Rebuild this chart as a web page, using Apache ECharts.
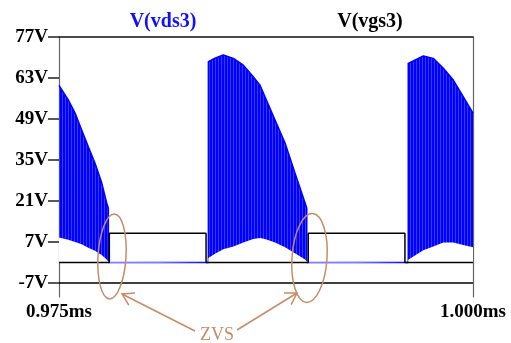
<!DOCTYPE html>
<html>
<head>
<meta charset="utf-8">
<script src="https://cdn.jsdelivr.net/npm/echarts@6/dist/echarts.min.js"></script>
<style>
html, body { margin: 0; padding: 0; background: #fff; }
#main { width: 511px; height: 343px; }
</style>
</head>
<body>
<div id="main"></div>
<script>
// V(vds3) ringing, read as upper / lower envelope (time in ms, volts)
var vdsTime = [0.97500, 0.97556, 0.97597, 0.97637, 0.97677, 0.97717, 0.97758, 0.97788, 0.97798, 0.97798,
               0.98402, 0.98402, 0.98442, 0.98492, 0.98553, 0.98613, 0.98673, 0.98714, 0.98744, 0.98804,
               0.98865, 0.98925, 0.98986, 0.98996, 0.98996,
               0.99609, 0.99609, 0.99700, 0.99760, 0.99821, 0.99881, 0.99941, 1.00000];
var vdsUpper = [60.5, 55.5, 51.0, 45.2, 39.5, 34.0, 27.2, 20.3, 18.5, 0,
                0, 68.6, 69.8, 70.9, 69.7, 67.4, 63.4, 60.5, 56.6, 48.7,
                40.8, 30.6, 20.3, 18.5, 0,
                0, 68.0, 70.5, 69.7, 66.3, 62.3, 56.6, 51.0];
var vdsLower = [8.5, 7.8, 7.0, 6.2, 5.0, 4.0, 2.6, 1.0, 0.3, 0,
                0, 1.5, 3.0, 4.5, 5.5, 6.8, 8.0, 8.4, 8.0, 6.8,
                5.2, 3.2, 1.0, 0.3, 0,
                0, 0.9, 4.2, 5.5, 6.8, 6.8, 6.0, 5.2];

// V(vgs3) gate drive
var vgsTime = [0.975, 0.97804, 0.97804, 0.98388, 0.98388, 0.99005, 0.99005, 0.99589, 0.99589, 1.0];
var vgsValue = [0, 0, 10, 10, 0, 0, 10, 10, 0, 0];

var yTicks = [-7, 7, 21, 35, 49, 63, 77];
var xTicks = [0.975, 1.0];
var seriesNames = ['V(vds3)', 'V(vgs3)'];

function pairs(xs, ys) {
    return xs.map(function (x, i) { return [x, ys[i]]; });
}

// vertical stripes to imitate the dense spikes
var stripe = document.createElement('canvas');
stripe.width = 3;
stripe.height = 4;
var sctx = stripe.getContext('2d');
sctx.fillStyle = '#0000ff';
sctx.fillRect(0, 0, 3, 4);
sctx.fillStyle = '#3a3aff';
sctx.fillRect(2, 0, 1, 4);

var font = 'Liberation Serif';
var brown = '#c68c68';

function arrow(x0, y0, x1, y1) {
    var a = Math.atan2(y0 - y1, x0 - x1), L = 13, s = 0.55;
    return [
        { type: 'polyline', shape: { points: [[x0, y0], [x1, y1]] }, style: { stroke: brown, lineWidth: 1.5, fill: null } },
        { type: 'polyline', shape: { points: [
            [x1 + L * Math.cos(a - s), y1 + L * Math.sin(a - s)],
            [x1, y1],
            [x1 + L * Math.cos(a + s), y1 + L * Math.sin(a + s)]
        ] }, style: { stroke: brown, lineWidth: 1.5, fill: null } }
    ];
}

var chart = echarts.init(document.getElementById('main'));
var option = {
    animation: false,
    grid: { left: 59, right: 38, top: 37, bottom: 46 },
    xAxis: [{
        type: 'value',
        min: 0.975,
        max: 1.0,
        axisLine: { show: false },
        axisTick: { show: false },
        splitLine: { show: false },
        axisLabel: {
            customValues: xTicks,
            margin: 6,
            formatter: function (v) { return v.toFixed(3) + 'ms'; },
            fontFamily: font, fontWeight: 'bold', fontSize: 19, color: '#000'
        }
    }, {
        type: 'value',
        position: 'top',
        min: 0.975,
        max: 1.0,
        axisLine: { show: true, onZero: false, lineStyle: { color: '#111', width: 1.5 } },
        axisTick: { show: false },
        axisLabel: { show: false },
        splitLine: { show: false }
    }],
    yAxis: [{
        type: 'value',
        min: -11.78,
        max: 77,
        axisLine: { show: true, onZero: false, lineStyle: { color: '#666', width: 1.2 } },
        axisTick: { show: true, customValues: yTicks, length: 11, lineStyle: { color: '#222', width: 1.5 } },
        splitLine: { show: false },
        axisLabel: {
            customValues: yTicks,
            margin: 11,
            formatter: function (v) { return v + 'V'; },
            fontFamily: font, fontWeight: 'bold', fontSize: 19, color: '#000'
        }
    }, {
        type: 'value',
        position: 'right',
        min: -11.78,
        max: 77,
        axisLine: { show: true, onZero: false, lineStyle: { color: '#666', width: 1.2 } },
        axisTick: { show: false },
        axisLabel: { show: false },
        splitLine: { show: false }
    }],
    series: [{
        name: seriesNames[0],
        type: 'line',
        data: pairs(vdsTime, vdsUpper),
        showSymbol: false,
        lineStyle: { color: '#0000ff', width: 1.5 },
        areaStyle: { color: { image: stripe, repeat: 'repeat' }, opacity: 1 },
        z: 2
    }, {
        name: 'lower',
        type: 'line',
        data: pairs(vdsTime, vdsLower),
        showSymbol: false,
        lineStyle: { opacity: 0 },
        areaStyle: { color: '#fff', opacity: 1 },
        z: 3
    }, {
        name: seriesNames[1],
        type: 'line',
        data: pairs(vgsTime, vgsValue),
        showSymbol: false,
        lineStyle: { color: '#000', width: 1.5 },
        markLine: {
            silent: true,
            symbol: 'none',
            label: { show: false },
            lineStyle: { color: '#000', width: 1.5, type: 'solid' },
            data: [{ yAxis: -7 }]
        },
        z: 4
    }],
    graphic: [
        { type: 'text', x: 163, y: 22, z: 10, style: { text: seriesNames[0], fill: '#1010ff', font: 'bold 20px ' + font, textAlign: 'center', textVerticalAlign: 'middle' } },
        { type: 'text', x: 370, y: 22, z: 10, style: { text: seriesNames[1], fill: '#000', font: 'bold 20px ' + font, textAlign: 'center', textVerticalAlign: 'middle' } },
        { type: 'ellipse', x: 112, y: 256.5, rotation: -0.06, z: 10, shape: { cx: 0, cy: 0, rx: 14, ry: 42.5 }, style: { stroke: brown, lineWidth: 1.5, fill: null } },
        { type: 'ellipse', x: 309.5, y: 258, rotation: -0.07, z: 10, shape: { cx: 0, cy: 0, rx: 17.5, ry: 44.5 }, style: { stroke: brown, lineWidth: 1.5, fill: null } },
        { type: 'text', x: 217, y: 335, z: 10, style: { text: 'ZVS', fill: brown, font: '18px ' + font, textAlign: 'center', textVerticalAlign: 'middle' } }
    ].concat(arrow(195, 331, 122, 294), arrow(237, 330, 297, 293))
};
chart.setOption(option);
</script>
</body>
</html>
